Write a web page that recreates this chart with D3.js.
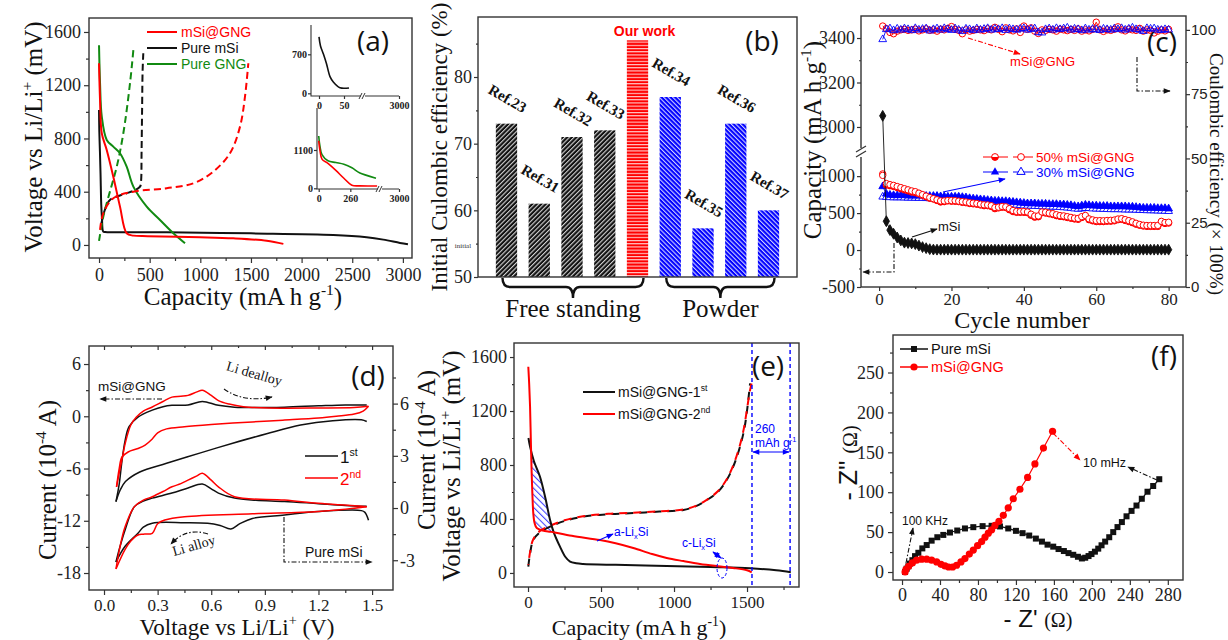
<!DOCTYPE html>
<html>
<head>
<meta charset="utf-8">
<script src="https://d3js.org/d3.v7.min.js"></script>
<style>
body { margin: 0; background: #fff; }
</style>
</head>
<body>
<svg id="fig" width="1228" height="640"></svg>
<script>
// ---------- (a) galvanostatic profiles, [capacity mA h g-1, voltage mV]
const aGngDis = [[0,1500],[10,1215],[27,965],[76,789],[141,739],[207,689],[273,588],[339,438],[471,288],[602,188],[734,88],[849,13]];
const aGngCha = [[0,30],[43,216],[100,380],[175,588],[240,839],[306,1215],[339,1465]];
const aSiDis = [[0,1014],[3,850],[9,700],[15,530],[22,300],[29,200],[42,100],[60,97],[668,95],[1500,87],[2313,75],[2642,58],[2807,40],[2971,15],[3050,5]];
const aSiCha = [[20,150],[60,270],[108,338],[200,370],[273,388],[350,410],[405,438],[415,480],[420,700],[425,1000],[430,1300],[437,1440]];
const aCompDis = [[0,1365],[10,1089],[27,839],[76,714],[141,513],[207,288],[273,88],[339,70],[480,66],[997,58],[1326,50],[1655,32],[1820,8]];
const aCompCha = [[10,113],[42,238],[141,351],[339,400],[668,426],[931,463],[1128,551],[1293,689],[1392,889],[1441,1114],[1474,1365]];
const aXTicks = [0,500,1000,1500,2000,2500,3000];
const aYTicks = [0,400,800,1200,1600];

// ---------- (b) initial coulombic efficiency
const bNames = ["Ref.23","Ref.31","Ref.32","Ref.33","Our work","Ref.34","Ref.35","Ref.36","Ref.37"];
const bValues = [73,61,71,72,85.5,77,57.3,73,60];
const bGroup = ["free","free","free","free","ours","powder","powder","powder","powder"];
const bTicks = [50,60,70,80];

// ---------- (c) cycling, capacity (mA h g-1) and coulombic efficiency (%)
const cCycles = d3.range(1, 81);
const cSi = [3050,390,270,220,170,130,100,95,90,80,
  60,40,25,12,6,5,5,5,5,5, 5,5,5,5,5,5,5,5,5,5, 5,5,5,5,5,5,5,5,5,5,
  5,5,5,5,5,5,5,5,5,5, 5,5,5,5,5,5,5,5,5,5, 5,5,5,5,5,5,5,5,5,5, 5,5,5,5,5,5,5,5,5,5];
const c50Dis = [1030,880,870,860,845,830,815,800,785,775, 760,740,720,700,690,670,650,655,665,660,
  660,655,645,640,630,625,620,610,600,600, 590,560,570,580,575,545,520,510,510,510,
  505,470,445,450,505,500,490,480,465,455, 450,440,430,420,415,440,455,410,395,385,
  385,385,390,390,395,410,415,400,385,370, 350,335,325,320,320,320,320,375,360,365];
const c50Cha = [1010,900,885,875,860,845,830,815,800,790, 770,750,730,710,695,680,665,665,670,670,
  668,662,655,650,640,635,630,620,612,610, 600,575,580,590,585,560,535,522,520,522,
  515,485,460,462,515,512,500,492,478,466, 462,452,442,432,428,452,468,422,408,398,
  398,396,400,402,406,420,425,412,398,382, 362,346,336,332,332,332,333,388,372,376];
const c30Dis = [860,760,745,740,740,740,740,735,735,735, 735,735,730,730,730,730,725,725,720,720,
  720,720,715,710,700,695,690,685,680,675, 670,665,665,660,660,655,650,645,640,635,
  630,630,630,625,625,625,620,620,620,615, 615,610,605,595,590,600,610,605,600,600,
  595,595,595,590,590,590,590,590,585,585, 580,575,570,570,570,570,565,565,565,560];
const c30Cha = [720,715,712,710,710,710,708,706,705,704, 703,702,700,698,697,696,694,692,690,688,
  686,684,680,675,670,665,660,655,650,645, 640,635,632,630,625,620,615,610,605,600,
  598,596,594,592,590,588,586,584,582,580, 576,572,568,560,555,560,565,565,560,558,
  556,554,552,550,550,550,548,546,545,545, 542,540,538,536,535,534,532,530,528,525];
const cCE50 = [101.5,100.5,99.0,98.5,99.5,100.0,100.2,99.8,100.0,100.3, 99.6,100.0,100.4,99.8,100.0,99.5,100.3,100.0,100.6,101.3,
  100.2,99.8,98.5,100.0,99.5,99.8,100.2,100.0,99.7,100.4, 100.0,101.0,100.2,99.3,100.8,100.0,99.6,100.4,99.0,101.5,
  100.2,100.8,99.5,98.6,100.0,99.8,100.2,100.0,99.5,100.3, 100.0,99.7,100.2,99.8,100.4,99.5,100.0,99.6,100.2,103.0,
  100.0,99.4,100.0,99.8,100.2,101.2,100.0,99.6,100.3,100.0, 99.8,100.6,99.5,100.0,99.8,98.8,99.5,100.0,99.6,100.2];
const cCE30 = [96.3,100.2,100.5,99.8,100.4,100.0,100.5,100.2,99.8,100.6, 100.0,100.3,100.5,99.7,100.2,100.5,100.0,100.6,100.2,99.9,
  100.5,100.0,99.5,100.4,100.2,99.8,100.5,100.0,100.3,100.6, 100.0,100.4,100.2,100.6,99.9,100.5,100.2,100.0,100.4,100.6,
  100.0,100.3,100.5,99.0,98.9,100.2,100.5,100.0,100.6,100.2, 100.5,100.8,100.0,100.4,100.2,99.8,100.5,100.0,100.3,100.1,
  99.9,100.4,100.2,100.0,100.5,100.2,100.6,100.0,100.4,100.8, 100.2,100.0,99.5,100.6,100.4,100.5,100.0,99.9,100.2,100.0];
const cXTicks = [0,20,40,60,80];
const cYTicks = [-500,0,500,1000,3000,3200,3400];
const cCETicks = [0,25,50,75,100];

// ---------- (d) cyclic voltammetry, [V, current 1e-4 A]
const dCompTop1 = [[0.067,-9.8],[0.085,-7.8],[0.1,-5.2],[0.118,-2.8],[0.14,-1.2],[0.19,-0.1],[0.27,0.7],[0.33,1.1],[0.38,1.26],[0.47,1.3],[0.55,1.7],[0.64,1.26],[0.73,1.05],[0.85,1.0],[1.01,1.05],[1.2,1.2],[1.35,1.3],[1.47,1.3]];
const dCompBot1 = [[1.47,-0.6],[1.44,-0.4],[1.28,-0.5],[1.1,-1.0],[0.91,-2.0],[0.72,-3.1],[0.54,-4.2],[0.35,-5.4],[0.2,-6.4],[0.12,-7.5],[0.09,-8.5],[0.067,-9.8]];
const dCompTop2 = [[0.07,-8.1],[0.09,-6.0],[0.105,-4.5],[0.12,-3.0],[0.15,-1.0],[0.18,-0.1],[0.22,0.6],[0.27,1.07],[0.33,1.7],[0.38,2.2],[0.43,2.3],[0.47,2.4],[0.52,2.8],[0.55,3.0],[0.6,2.4],[0.64,1.8],[0.7,1.4],[0.78,1.1],[0.92,0.95],[1.2,0.95],[1.4,1.0],[1.48,1.15]];
const dCompBot2 = [[1.48,1.15],[1.45,0.6],[1.4,0.25],[1.3,0.0],[1.2,-0.2],[1.0,-0.45],[0.83,-0.65],[0.6,-0.95],[0.45,-1.2],[0.35,-1.45],[0.3,-1.9],[0.27,-2.6],[0.23,-3.3],[0.19,-3.7],[0.135,-4.1],[0.1,-4.7],[0.085,-6],[0.07,-8.1]];
const dSiTop1 = [[0.067,-3.1],[0.09,-2.2],[0.118,-1.26],[0.17,0.08],[0.22,0.4],[0.27,0.57],[0.38,0.86],[0.47,1.15],[0.55,1.38],[0.6,1.1],[0.64,0.86],[0.73,0.57],[0.85,0.45],[1.01,0.38],[1.2,0.25],[1.35,0.15],[1.47,0.1]];
const dSiBot1 = [[1.48,-0.7],[1.46,-0.25],[1.44,-0.15],[1.2,-0.2],[1.01,-0.4],[0.83,-0.6],[0.76,-0.9],[0.71,-1.2],[0.65,-1.0],[0.58,-0.87],[0.45,-0.84],[0.27,-0.87],[0.22,-1.1],[0.19,-1.45],[0.118,-2.2],[0.067,-3.1]];
const dSiTop2 = [[0.067,-3.5],[0.09,-2.2],[0.118,-1.07],[0.17,0.08],[0.22,0.45],[0.27,0.65],[0.33,0.95],[0.38,1.22],[0.43,1.4],[0.47,1.6],[0.52,1.85],[0.55,2.0],[0.6,1.6],[0.64,1.22],[0.73,0.65],[1.01,0.46],[1.2,0.27],[1.47,0.08]];
const dSiBot2 = [[1.47,0.08],[1.2,-0.2],[0.83,-0.33],[0.45,-0.5],[0.34,-0.69],[0.3,-0.9],[0.27,-1.45],[0.22,-1.5],[0.19,-1.55],[0.15,-1.9],[0.118,-2.38],[0.067,-3.5]];
const dXTicks = [0,0.3,0.6,0.9,1.2,1.5];
const dYTicks = [-18,-12,-6,0,6];
const dY2Ticks = [-3,0,3,6];

// ---------- (e) mSi@GNG first and second cycle, [capacity, voltage mV]
const eDis1 = [[3,1000],[14,936],[40,830],[82,713],[120,550],[151,393],[175,305],[219,195],[255,120],[288,84],[330,72],[377,67],[600,60],[950,52],[1250,44],[1521,35],[1700,20],[1800,5]];
const eDis2 = [[2,1528],[8,1400],[14,1232],[20,950],[25,740],[30,580],[36,444],[45,370],[60,333],[100,315],[151,306],[175,302],[300,275],[493,244],[600,220],[721,185],[850,140],[950,111],[1064,88],[1178,67],[1300,50],[1404,37],[1500,20],[1532,5]];
const eCha1 = [[2,47],[15,150],[36,244],[80,300],[151,343],[250,385],[377,417],[550,435],[721,444],[900,455],[1064,467],[1150,495],[1224,540],[1300,600],[1361,689],[1410,800],[1452,936],[1480,1060],[1498,1185],[1521,1405]];
const eCha2 = [[2,60],[15,160],[36,250],[80,310],[151,350],[250,390],[377,420],[550,438],[721,446],[900,457],[1064,470],[1150,497],[1224,542],[1300,605],[1361,695],[1410,810],[1452,950],[1480,1080],[1498,1200],[1520,1350],[1535,1420]];
const eMarks = [1534, 1795];
const eXTicks = [0,500,1000,1500];
const eYTicks = [0,400,800,1200,1600];

// ---------- (f) Nyquist plots, [-Z', -Z''] ohm
const fSi = [[3.2,0],[4.9,4.2],[6.7,7.2],[8.4,10.6],[10.9,14.8],[13.7,19.9],[17.2,24.1],[21.4,29.6],[26,33.8],[31.2,39.3],[37.2,43.6],[43.5,46.5],[50.5,49.5],[58.2,52],[66.3,54.6],[75.1,56.2],[84.9,57.5],[94.4,57.9],[103.2,57.1],[111.9,54.6],[120,51.6],[127,48.7],[134,45.7],[141,41.9],[147.4,38.1],[153.3,34.3],[159.3,31.8],[164.9,28.8],[170.5,26.3],[175.4,23.7],[180.4,21.6],[185.3,19.1],[189.5,17],[193,17.9],[196.5,20],[199.6,22.5],[203.2,25.5],[206.7,29.3],[210.2,33.5],[214,38.1],[218.3,43.6],[222.5,50],[227,56.3],[231.6,62.6],[236.5,69.8],[241.8,76.6],[247,83.3],[252.6,91.8],[258.6,100.6],[264.6,107.8],[271,116.3]];
const fComp = [[3.2,0],[4.2,3.4],[7,7.2],[10.9,11.4],[15.4,14.8],[20.7,16.1],[26,16.1],[31.2,14.8],[36.5,12.7],[41.1,9.7],[45.3,7.6],[49.1,6.3],[53.3,6.3],[57.5,8.5],[62.1,12.7],[66.3,16.9],[70.9,22.5],[75.1,27.5],[79.6,33],[83.9,38.1],[87.4,43.6],[90.9,48.7],[94.4,52.9],[97.9,58.4],[102.1,63.5],[106.7,71.1],[111.9,80.4],[117.2,91.8],[124.2,103.7],[132.3,118.5],[140,135.4],[149,155.3],[158.6,176.4]];
const fXTicks = [0,40,80,120,160,200,240,280];
const fYTicks = [0,50,100,150,200,250];

// ---------- drawing
const SERIF = '"Liberation Serif","Times New Roman",serif';
const SANS = '"Liberation Sans",Arial,sans-serif';
const PANEL = '"Open Sans","Liberation Sans",sans-serif';
const RED = '#ff0000', GREEN = '#118a11', BLUE = '#0000ff', INK = '#111';
const DASHDOT = '5,2,1.5,2';
const F = d => String(d);
const F1 = d => d.toFixed(1);

const svg = d3.select('#fig');
svg.append('rect').attr('width', 1228).attr('height', 640).attr('fill', '#fff');
const defs = svg.append('defs');

function clip(id, x0, y0, x1, y1) {
  defs.append('clipPath').attr('id', id).append('rect')
    .attr('x', x0).attr('y', y0).attr('width', x1 - x0).attr('height', y1 - y0);
  return svg.append('g').attr('clip-path', 'url(#' + id + ')');
}
function frame(x0, y0, x1, y1) {
  svg.append('rect').attr('x', x0).attr('y', y0).attr('width', x1 - x0).attr('height', y1 - y0)
    .attr('fill', 'none').attr('stroke', '#333').attr('stroke-width', 1.4);
}
function axis(gen, tx, ty, font, size, weight) {
  const g = svg.append('g').attr('transform', 'translate(' + tx + ',' + ty + ')').call(gen);
  g.select('.domain').remove();
  g.selectAll('line').attr('stroke', '#333').attr('stroke-width', 1.2);
  g.selectAll('text').attr('font-family', font || SERIF).attr('font-size', size || 18)
    .attr('font-weight', weight || 'normal').attr('fill', '#222');
  return g;
}
function rich(x, y, parts, o) {
  const t = svg.append('text').attr('font-family', o.font || SERIF).attr('font-size', o.size)
    .attr('fill', o.color || INK).attr('text-anchor', o.anchor || 'start');
  if (o.rotate) t.attr('transform', 'translate(' + x + ',' + y + ') rotate(' + o.rotate + ')');
  else t.attr('x', x).attr('y', y);
  let off = 0;
  parts.forEach(p => {
    const s = Array.isArray(p) ? p[0] : p, k = Array.isArray(p) ? p[1] : null;
    const target = k === 'sup' ? -o.size * 0.42 : k === 'sub' ? o.size * 0.25 : 0;
    const ts = t.append('tspan').text(s).attr('dy', target - off);
    if (k) ts.attr('font-size', o.size * 0.62);
    off = target;
  });
  return t;
}
function marker(id, color) {
  defs.append('marker').attr('id', id).attr('viewBox', '0 0 10 10').attr('refX', 9).attr('refY', 5)
    .attr('markerWidth', 8).attr('markerHeight', 7).attr('markerUnits', 'userSpaceOnUse')
    .attr('orient', 'auto-start-reverse')
    .append('path').attr('d', 'M0,1 L10,5 L0,9 z').attr('fill', color);
}
marker('ah-k', INK); marker('ah-r', RED); marker('ah-b', BLUE);
function arrow(d, color, key, dash, both) {
  const p = svg.append('path').attr('d', d).attr('fill', 'none').attr('stroke', color)
    .attr('stroke-width', 1.1).attr('marker-end', 'url(#ah-' + key + ')');
  if (dash) p.attr('stroke-dasharray', dash);
  if (both) p.attr('marker-start', 'url(#ah-' + key + ')');
}
function hatch(id, bg, angle, size, color, w) {
  const p = defs.append('pattern').attr('id', id).attr('patternUnits', 'userSpaceOnUse')
    .attr('width', size).attr('height', size).attr('patternTransform', 'rotate(' + angle + ')');
  if (bg) p.append('rect').attr('width', size).attr('height', size).attr('fill', bg);
  p.append('line').attr('x1', 0.6).attr('y1', 0).attr('x2', 0.6).attr('y2', size)
    .attr('stroke', color).attr('stroke-width', w);
}
hatch('hatch-free', '#111', 45, 3.2, '#fff', 0.9);
hatch('hatch-ours', RED, 90, 3.2, '#fff', 0.9);
hatch('hatch-powder', BLUE, -45, 3.2, '#fff', 0.9);
hatch('hatch-e', null, -45, 4.5, BLUE, 0.8);
const smooth = (x, y) => d3.line().x(d => x(d[0])).y(d => y(d[1])).curve(d3.curveCatmullRom.alpha(0.5));
function curve(g, line, data, color, width, dash, offset) {
  const p = g.append('path').attr('d', line(data)).attr('fill', 'none').attr('stroke', color).attr('stroke-width', width);
  if (dash) p.attr('stroke-dasharray', dash);
  if (offset) p.attr('stroke-dashoffset', offset);
}
function panelLabel(x, y, s) {
  svg.append('text').attr('x', x).attr('y', y).attr('text-anchor', 'middle').attr('font-family', PANEL)
    .attr('font-size', 28).attr('fill', INK).text(s);
}

// ================= (a)
const xa = d3.scaleLinear().domain([-99, 3090]).range([89, 412]);
const ya = d3.scaleLinear().domain([-98, 1705]).range([258, 18]);
const gA = clip('clipA', 89, 18, 412, 258);
const la = smooth(xa, ya);
curve(gA, la, aSiDis, INK, 2);
curve(gA, la, aSiCha, INK, 2, '7,4');
curve(gA, la, aGngDis, GREEN, 2);
curve(gA, la, aGngCha, GREEN, 2, '7,4');
curve(gA, la, aCompDis, RED, 2);
curve(gA, la, aCompCha, RED, 2, '7,4');
frame(89, 18, 412, 258);
axis(d3.axisLeft(ya).tickValues(aYTicks).tickSize(5).tickPadding(3).tickFormat(F), 89, 0);
axis(d3.axisLeft(ya).tickValues([200,600,1000,1400]).tickSize(3).tickFormat(''), 89, 0);
axis(d3.axisBottom(xa).tickValues(aXTicks).tickSize(5).tickPadding(5).tickFormat(F), 0, 258);
axis(d3.axisBottom(xa).tickValues([250,750,1250,1750,2250,2750]).tickSize(3).tickFormat(''), 0, 258);
rich(42, 137, ['Voltage vs Li/Li', ['+', 'sup'], ' (mV)'], {size: 25, anchor: 'middle', rotate: -90});
rich(243, 305, ['Capacity (mA h g', ['-1', 'sup'], ')'], {size: 25, anchor: 'middle'});
[['mSi@GNG', RED, 32], ['Pure mSi', INK, 48], ['Pure GNG', GREEN, 64]].forEach(([s, c, y]) => {
  svg.append('line').attr('x1', 147).attr('x2', 177).attr('y1', y).attr('y2', y).attr('stroke', c).attr('stroke-width', 2);
  svg.append('text').attr('x', 181).attr('y', y + 5).attr('font-family', SANS).attr('font-size', 14).attr('fill', c).text(s);
});
panelLabel(373, 51, '(a)');

// insets of (a)
function inset(xs, ys, x0, y0, x1, y1, yt, xt, brk, series) {
  const g = svg.append('g');
  series.forEach(([d, c]) => g.append('path').attr('d', smooth(xs, ys)(d)).attr('fill', 'none').attr('stroke', c).attr('stroke-width', 1.6));
  svg.append('path').attr('d', 'M' + x0 + ',' + y0 + 'V' + y1 + 'H' + x1).attr('fill', 'none').attr('stroke', '#333').attr('stroke-width', 1.1);
  axis(d3.axisLeft(ys).tickValues(yt).tickSize(3).tickPadding(1).tickFormat(F), x0, 0, SERIF, 10, 'bold');
  axis(d3.axisBottom(xs).tickValues(xt).tickSize(3).tickPadding(3).tickFormat(F), 0, y1, SERIF, 10, 'bold');
  svg.append('rect').attr('x', brk - 2).attr('y', y1 - 2).attr('width', 4).attr('height', 4).attr('fill', '#fff');
  [-2, 1].forEach(o => svg.append('line').attr('x1', brk + o - 2).attr('y1', y1 + 3).attr('x2', brk + o + 1).attr('y2', y1 - 3)
    .attr('stroke', '#333').attr('stroke-width', 1));
}
const xi1 = d3.scaleLinear().domain([-16, 88, 2900, 3000]).range([311, 363, 380, 399]);
const yi1 = d3.scaleLinear().domain([-48, 1226]).range([96, 25]);
inset(xi1, yi1, 311, 25, 399, 96, [0, 700], [0, 50, 3000], 363, [[aSiDis.filter(d => d[0] <= 60), INK]]);
const xi2 = d3.scaleLinear().domain([-14, 504, 2900, 3000]).range([317, 380, 385, 399]);
const yi2 = d3.scaleLinear().domain([-20, 2305]).range([189, 108]);
inset(xi2, yi2, 317, 108, 399, 189, [0, 1100], [0, 260, 3000], 380,
  [[aGngDis.filter(d => d[0] <= 480), GREEN], [aCompDis.filter(d => d[0] <= 480), RED]]);

// ================= (b)
const xb = d3.scaleBand().domain(bNames).range([478, 797]).paddingInner(0.35).paddingOuter(0.545);
const yb = d3.scaleLinear().domain([50, 89]).range([277, 17]);
const bw = xb.bandwidth();
svg.append('g').selectAll('rect').data(bNames).join('rect')
  .attr('x', d => xb(d)).attr('width', bw)
  .attr('y', (d, i) => yb(bValues[i])).attr('height', (d, i) => yb(50) - yb(bValues[i]))
  .attr('fill', (d, i) => 'url(#hatch-' + bGroup[i] + ')');
bNames.forEach((n, i) => {
  const cx = xb(n) + bw / 2;
  if (bGroup[i] === 'ours') {
    svg.append('text').attr('x', cx + 7).attr('y', yb(bValues[i]) - 4).attr('text-anchor', 'middle')
      .attr('font-family', SANS).attr('font-weight', 'bold').attr('font-size', 14).attr('fill', RED).text(n);
  } else {
    svg.append('text').attr('transform', 'translate(' + (cx + 1) + ',' + (yb(bValues[i]) - 25) + ') rotate(30)')
      .attr('text-anchor', 'middle').attr('dominant-baseline', 'central')
      .attr('font-family', SERIF).attr('font-weight', 'bold').attr('font-size', 15).attr('fill', INK).text(n);
  }
});
frame(478, 17, 797, 277);
axis(d3.axisLeft(yb).tickValues(bTicks).tickSize(4).tickPadding(2).tickFormat(F), 478, 0);
axis(d3.axisLeft(yb).tickValues([55, 65, 75, 85]).tickSize(2).tickFormat(''), 478, 0);
rich(447, 147, ['Initial Culombic efficiency (%)'], {size: 23, anchor: 'middle', rotate: -90});
svg.append('text').attr('x', 463).attr('y', 248).attr('text-anchor', 'middle').attr('font-family', SERIF)
  .attr('font-size', 7).attr('fill', '#333').text('initial');
function brace(first, last, name) {
  const x0 = xb(first) + bw / 2 - 4, x1 = xb(last) + bw / 2 + 6, m = (x0 + x1) / 2, y0 = 278, h = y0 + 9;
  svg.append('path').attr('d', 'M' + x0 + ',' + y0 + 'Q' + x0 + ',' + h + ' ' + (x0 + 8) + ',' + h + 'L' + (m - 7) + ',' + h +
    'Q' + m + ',' + h + ' ' + m + ',' + (h + 11) + 'Q' + m + ',' + h + ' ' + (m + 7) + ',' + h + 'L' + (x1 - 8) + ',' + h +
    'Q' + x1 + ',' + h + ' ' + x1 + ',' + y0).attr('fill', 'none').attr('stroke', INK).attr('stroke-width', 2.4);
  svg.append('text').attr('x', m).attr('y', 317).attr('text-anchor', 'middle').attr('font-family', SERIF)
    .attr('font-size', 25).attr('fill', INK).text(name);
}
brace('Ref.23', 'Our work', 'Free standing');
brace('Ref.34', 'Ref.37', 'Powder');
panelLabel(762, 51, '(b)');

// ================= (c)
const xc = d3.scaleLinear().domain([-5, 84.8]).range([861, 1186]);
const ycl = d3.scaleLinear().domain([-500, 1313, 2883, 3499]).range([287, 153, 153, 16]);
const ycr = d3.scaleLinear().domain([0, 105.4]).range([287, 16]);
const gC = clip('clipC', 861, 16, 1186, 287);
function series(vals, y, color) {
  gC.append('path').attr('d', d3.line().x((v, i) => xc(cCycles[i])).y(v => y(v))(vals))
    .attr('fill', 'none').attr('stroke', color).attr('stroke-width', 0.9);
}
function circles(vals, y, color, fill) {
  gC.selectAll(null).data(vals).join('circle').attr('cx', (v, i) => xc(cCycles[i])).attr('cy', v => y(v))
    .attr('r', 3.2).attr('fill', fill).attr('stroke', color).attr('stroke-width', 1);
}
function halves(vals, y, color) {
  gC.selectAll(null).data(vals).join('path').attr('transform', (v, i) => 'translate(' + xc(cCycles[i]) + ',' + y(v) + ')')
    .attr('d', 'M-3.2,0A3.2,3.2 0 0 0 3.2,0Z').attr('fill', color);
}
function symbols(vals, y, type, size, color, fill) {
  gC.selectAll(null).data(vals).join('path').attr('transform', (v, i) => 'translate(' + xc(cCycles[i]) + ',' + y(v) + ')')
    .attr('d', d3.symbol(type, size)()).attr('fill', fill).attr('stroke', color).attr('stroke-width', 0.9);
}
series(cCE50, ycr, RED); series(cCE30, ycr, BLUE);
circles(cCE50, ycr, RED, 'none');
symbols(cCE30, ycr, d3.symbolTriangle, 26, BLUE, 'none');
series(c30Cha, ycl, BLUE); series(c30Dis, ycl, BLUE);
symbols(c30Cha, ycl, d3.symbolTriangle, 26, BLUE, '#fff');
symbols(c30Dis, ycl, d3.symbolTriangle, 26, BLUE, BLUE);
series(c50Dis, ycl, RED); series(c50Cha, ycl, RED);
circles(c50Dis, ycl, RED, '#fff'); halves(c50Dis, ycl, RED);
circles(c50Cha, ycl, RED, '#fff');
series(cSi, ycl, INK);
symbols(cSi, ycl, d3.symbolDiamond, 34, INK, INK);
frame(861, 16, 1186, 287);
axis(d3.axisLeft(ycl).tickValues(cYTicks).tickSize(4).tickPadding(2).tickFormat(F), 861, 0);
axis(d3.axisLeft(ycl).tickValues([-250, 250, 750, 3100, 3300]).tickSize(2).tickFormat(''), 861, 0);
axis(d3.axisBottom(xc).tickValues(cXTicks).tickSize(4).tickPadding(2).tickFormat(F), 0, 287, SERIF, 17);
axis(d3.axisBottom(xc).tickValues([10, 30, 50, 70]).tickSize(2).tickFormat(''), 0, 287);
axis(d3.axisRight(ycr).tickValues(cCETicks).tickSize(4).tickPadding(1).tickFormat(F), 1186, 0, SANS, 15);
axis(d3.axisRight(ycr).tickValues([12.5, 37.5, 62.5, 87.5]).tickSize(2).tickFormat(''), 1186, 0);
// axis break
svg.append('rect').attr('x', 855).attr('y', 148).attr('width', 12).attr('height', 9).attr('fill', '#fff');
[0, 5].forEach(o => svg.append('line').attr('x1', 856).attr('y1', 152 + o).attr('x2', 866).attr('y2', 146 + o)
  .attr('stroke', '#333').attr('stroke-width', 1.2));
rich(821, 140, ['Capacity (mA h g', ['-1', 'sup'], ')'], {size: 25, anchor: 'middle', rotate: -90});
rich(1210, 174, ['Coulombic efficiency (\u00d7 100%)'], {size: 19, anchor: 'middle', rotate: 90});
rich(1022, 328, ['Cycle number'], {size: 24, anchor: 'middle'});
// legend
[[157, RED, '50% mSi@GNG', 'c'], [172, BLUE, '30% mSi@GNG', 't']].forEach(([y, c, s, k]) => {
  svg.append('line').attr('x1', 983).attr('x2', 1008).attr('y1', y).attr('y2', y).attr('stroke', c).attr('stroke-width', 1);
  svg.append('line').attr('x1', 1013).attr('x2', 1033).attr('y1', y).attr('y2', y).attr('stroke', c).attr('stroke-width', 1);
  if (k === 'c') {
    svg.append('circle').attr('cx', 995).attr('cy', y).attr('r', 3.4).attr('fill', '#fff').attr('stroke', c);
    svg.append('path').attr('transform', 'translate(995,' + y + ')').attr('d', 'M-3.4,0A3.4,3.4 0 0 0 3.4,0Z').attr('fill', c);
    svg.append('circle').attr('cx', 1021).attr('cy', y).attr('r', 3.4).attr('fill', '#fff').attr('stroke', c);
  } else {
    svg.append('path').attr('transform', 'translate(995,' + y + ')').attr('d', d3.symbol(d3.symbolTriangle, 30)()).attr('fill', c);
    svg.append('path').attr('transform', 'translate(1021,' + y + ')').attr('d', d3.symbol(d3.symbolTriangle, 30)()).attr('fill', '#fff').attr('stroke', c);
  }
  svg.append('text').attr('x', 1036).attr('y', y + 5).attr('font-family', SANS).attr('font-size', 13.5).attr('fill', c).text(s);
});
svg.append('text').attr('x', 1010).attr('y', 66).attr('font-family', SANS).attr('font-size', 13).attr('fill', RED).text('mSi@GNG');
arrow('M968,38 L1020,54', RED, 'r', DASHDOT);
arrow('M943,192 L1005,179', BLUE, 'b', null);
svg.append('text').attr('x', 938).attr('y', 231).attr('font-family', SANS).attr('font-size', 13).attr('fill', INK).text('mSi');
arrow('M912,237 L937,229', INK, 'k', null);
arrow('M894,243 V272 H863', INK, 'k', DASHDOT);
arrow('M1137,57 V91 H1170', INK, 'k', DASHDOT);
panelLabel(1162, 52, '(c)');

// ================= (d)
const xd = d3.scaleLinear().domain([-0.084, 1.617]).range([89, 393]);
const ydl = d3.scaleLinear().domain([-19.95, 8.07]).range([590, 346]);
const ydr = d3.scaleLinear().domain([-4.71, 9.31]).range([590, 346]);
const gD = clip('clipD', 89, 346, 393, 590);
const ldl = smooth(xd, ydl), ldr = smooth(xd, ydr);
curve(gD, ldl, dCompTop1, INK, 1.5); curve(gD, ldl, dCompBot1, INK, 1.5);
curve(gD, ldl, dCompTop2, RED, 1.5); curve(gD, ldl, dCompBot2, RED, 1.5);
curve(gD, ldr, dSiTop1, INK, 1.5); curve(gD, ldr, dSiBot1, INK, 1.5);
curve(gD, ldr, dSiTop2, RED, 1.5); curve(gD, ldr, dSiBot2, RED, 1.5);
frame(89, 346, 393, 590);
axis(d3.axisLeft(ydl).tickValues(dYTicks).tickSize(5).tickPadding(3).tickFormat(F), 89, 0);
axis(d3.axisLeft(ydl).tickValues([-15, -9, -3, 3]).tickSize(3).tickFormat(''), 89, 0);
axis(d3.axisRight(ydr).tickValues(dY2Ticks).tickSize(5).tickPadding(2).tickFormat(F), 393, 0);
axis(d3.axisRight(ydr).tickValues([-1.5, 1.5, 4.5, 7.5]).tickSize(3).tickFormat(''), 393, 0);
axis(d3.axisBottom(xd).tickValues(dXTicks).tickSize(5).tickPadding(4).tickFormat(F1), 0, 590, SERIF, 17);
axis(d3.axisBottom(xd).tickValues([0.15, 0.45, 0.75, 1.05, 1.35]).tickSize(3).tickFormat(''), 0, 590);
axis(d3.axisBottom(xd).tickValues(dXTicks).tickSize(4).tickFormat(''), 0, 346);
axis(d3.axisBottom(xd).tickValues([0.15, 0.45, 0.75, 1.05, 1.35]).tickSize(2).tickFormat(''), 0, 346);
rich(56, 480, ['Current (10', ['-4', 'sup'], ' A)'], {size: 25, anchor: 'middle', rotate: -90});
rich(435, 450, ['Current (10', ['-4', 'sup'], ' A)'], {size: 25, anchor: 'middle', rotate: -90});
rich(237, 635, ['Voltage vs Li/Li', ['+', 'sup'], ' (V)'], {size: 23, anchor: 'middle'});
[[456, INK, '1', 'st'], [478, RED, '2', 'nd']].forEach(([y, c, n, s]) => {
  svg.append('line').attr('x1', 305).attr('x2', 338).attr('y1', y).attr('y2', y).attr('stroke', c).attr('stroke-width', 1.5);
  rich(340, y + 7, [n, [s, 'sup']], {size: 17, font: SANS, color: c});
});
svg.append('text').attr('x', 98).attr('y', 391).attr('font-family', SANS).attr('font-size', 13.5).attr('fill', INK).text('mSi@GNG');
arrow('M162,399 H100', INK, 'k', DASHDOT);
svg.append('text').attr('transform', 'translate(253,378) rotate(16)').attr('text-anchor', 'middle')
  .attr('font-family', SERIF).attr('font-size', 14).attr('fill', INK).text('Li dealloy');
arrow('M224,389 Q244,403 272,397', INK, 'k', DASHDOT);
svg.append('text').attr('transform', 'translate(195,550) rotate(-16)').attr('text-anchor', 'middle')
  .attr('font-family', SERIF).attr('font-size', 14).attr('fill', INK).text('Li alloy');
arrow('M208,534 Q186,527 171,544', INK, 'k', DASHDOT);
svg.append('text').attr('x', 305).attr('y', 557).attr('font-family', SANS).attr('font-size', 14).attr('fill', INK).text('Pure mSi');
arrow('M284,517 V562 H372', INK, 'k', DASHDOT);
panelLabel(368, 386, '(d)');

// ================= (e)
const xe = d3.scaleLinear().domain([-96, 1856]).range([514, 799]);
const ye = d3.scaleLinear().domain([-104, 1704]).range([587, 343]);
const gE = clip('clipE', 514, 343, 799, 587);
const le = smooth(xe, ye);
const hatchPoly = eDis1.filter(d => d[0] >= 14 && d[0] <= 175).concat(eDis2.filter(d => d[0] >= 20 && d[0] <= 175).reverse());
gE.append('path').attr('d', d3.line().x(d => xe(d[0])).y(d => ye(d[1]))(hatchPoly) + 'Z').attr('fill', 'url(#hatch-e)');
curve(gE, le, eCha1, INK, 2, '8,6');
curve(gE, le, eCha2, RED, 2, '8,6', 7);
curve(gE, le, eDis1, INK, 2);
curve(gE, le, eDis2, RED, 2);
eMarks.forEach(c => gE.append('line').attr('x1', xe(c)).attr('x2', xe(c)).attr('y1', 343).attr('y2', 587)
  .attr('stroke', BLUE).attr('stroke-width', 1.4).attr('stroke-dasharray', '4,3'));
frame(514, 343, 799, 587);
axis(d3.axisLeft(ye).tickValues(eYTicks).tickSize(4).tickPadding(3).tickFormat(F), 514, 0);
axis(d3.axisLeft(ye).tickValues([200, 600, 1000, 1400]).tickSize(2).tickFormat(''), 514, 0);
axis(d3.axisBottom(xe).tickValues(eXTicks).tickSize(5).tickPadding(4).tickFormat(F), 0, 587, SERIF, 17);
axis(d3.axisBottom(xe).tickValues([250, 750, 1250, 1750]).tickSize(3).tickFormat(''), 0, 587);
rich(460, 466, ['Voltage vs Li/Li', ['+', 'sup'], ' (mV)'], {size: 25, anchor: 'middle', rotate: -90});
rich(639, 635, ['Capacity (mA h g', ['-1', 'sup'], ')'], {size: 22, anchor: 'middle'});
[[392, INK, 'st'], [414, RED, 'nd']].forEach(([y, c, s]) => {
  svg.append('line').attr('x1', 583).attr('x2', 615).attr('y1', y).attr('y2', y).attr('stroke', c).attr('stroke-width', 2);
  rich(618, y + 5, ['mSi@GNG-' + (s === 'st' ? '1' : '2'), [s, 'sup']], {size: 14, font: SANS, color: INK});
});
rich(755, 433, ['260'], {size: 12, font: SANS, color: BLUE});
rich(755, 447, ['mAh g', ['-1', 'sup']], {size: 12, font: SANS, color: BLUE});
arrow('M' + (xe(eMarks[0]) + 1) + ',452 H' + (xe(eMarks[1]) - 1), BLUE, 'b', null, true);
rich(614, 536, ['a-Li', ['x', 'sub'], 'Si'], {size: 12, font: SANS, color: BLUE});
arrow('M597,541 L613,534', BLUE, 'b', null);
rich(682, 547, ['c-Li', ['x', 'sub'], 'Si'], {size: 12, font: SANS, color: BLUE});
arrow('M713,552 L721,558', BLUE, 'b', null, true);
svg.append('ellipse').attr('cx', 722).attr('cy', 568).attr('rx', 5).attr('ry', 10).attr('fill', 'none')
  .attr('stroke', BLUE).attr('stroke-width', 1).attr('stroke-dasharray', '3,2');
panelLabel(768, 376, '(e)');

// ================= (f)
const xf = d3.scaleLinear().domain([-9.5, 296]).range([893, 1183]);
const yf = d3.scaleLinear().domain([-10, 297]).range([580, 335]);
const gF = clip('clipF', 893, 335, 1183, 580);
const lf = d3.line().x(d => xf(d[0])).y(d => yf(d[1]));
gF.append('path').attr('d', lf(fSi)).attr('fill', 'none').attr('stroke', INK).attr('stroke-width', 1.2);
gF.selectAll(null).data(fSi).join('rect').attr('x', d => xf(d[0]) - 3).attr('y', d => yf(d[1]) - 3)
  .attr('width', 6).attr('height', 6).attr('fill', INK);
gF.append('path').attr('d', lf(fComp)).attr('fill', 'none').attr('stroke', RED).attr('stroke-width', 1.2);
gF.selectAll(null).data(fComp).join('circle').attr('cx', d => xf(d[0])).attr('cy', d => yf(d[1])).attr('r', 3.6).attr('fill', RED);
frame(893, 335, 1183, 580);
axis(d3.axisLeft(yf).tickValues(fYTicks).tickSize(5).tickPadding(4).tickFormat(F), 893, 0);
axis(d3.axisLeft(yf).tickValues([25, 75, 125, 175, 225, 275]).tickSize(3).tickFormat(''), 893, 0);
axis(d3.axisBottom(xf).tickValues(fXTicks).tickSize(5).tickPadding(3).tickFormat(F), 0, 580);
axis(d3.axisBottom(xf).tickValues([20, 60, 100, 140, 180, 220, 260]).tickSize(3).tickFormat(''), 0, 580);
const fy = svg.append('text').attr('transform', 'translate(857,463) rotate(-90)').attr('text-anchor', 'middle').attr('fill', INK);
fy.append('tspan').attr('font-family', SANS).attr('font-size', 25).text("- Z'' ");
fy.append('tspan').attr('font-family', SERIF).attr('font-size', 20).text('(\u03a9)');
const fx = svg.append('text').attr('x', 1038).attr('y', 627).attr('text-anchor', 'middle').attr('fill', INK);
fx.append('tspan').attr('font-family', SANS).attr('font-size', 24).text("- Z'  ");
fx.append('tspan').attr('font-family', SERIF).attr('font-size', 20).text('(\u03a9)');
[[349, INK, 'Pure mSi', 's'], [367, RED, 'mSi@GNG', 'c']].forEach(([y, c, s, k]) => {
  svg.append('line').attr('x1', 900).attr('x2', 928).attr('y1', y).attr('y2', y).attr('stroke', c).attr('stroke-width', 1.5);
  if (k === 's') svg.append('rect').attr('x', 911).attr('y', y - 3).attr('width', 6).attr('height', 6).attr('fill', c);
  else svg.append('circle').attr('cx', 914).attr('cy', y).attr('r', 3.6).attr('fill', c);
  svg.append('text').attr('x', 931).attr('y', y + 5).attr('font-family', SANS).attr('font-size', 14.5).attr('fill', c).text(s);
});
svg.append('text').attr('x', 902).attr('y', 525).attr('font-family', SANS).attr('font-size', 12).attr('fill', INK).text('100 KHz');
arrow('M906,563 L913,528', INK, 'k', DASHDOT);
svg.append('text').attr('x', 1083).attr('y', 467).attr('font-family', SANS).attr('font-size', 12.5).attr('fill', INK).text('10 mHz');
arrow('M1053,433 L1080,460', RED, 'r', DASHDOT);
arrow('M1157,480 L1128,467', INK, 'k', DASHDOT);
panelLabel(1164, 366, '(f)');
</script>
</body>
</html>
